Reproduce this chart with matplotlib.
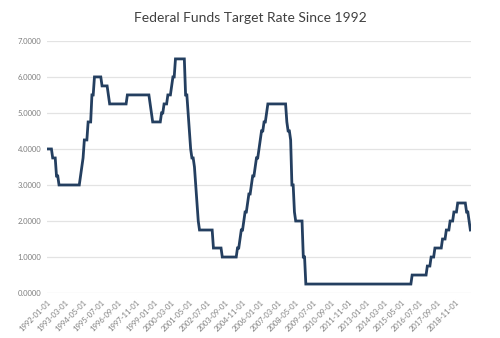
import matplotlib.pyplot as plt

# monthly target rate (value in effect on the 1st), 1992-01 .. 2019-11
rates_1992 = [4.00, 4.00, 4.00, 4.00, 3.75, 3.75, 3.75, 3.25, 3.25, 3.00, 3.00, 3.00]
rates_1993 = [3.00] * 12
rates_1994 = [3.00, 3.00, 3.25, 3.50, 3.75, 4.25, 4.25, 4.25, 4.75, 4.75, 4.75, 5.50]
rates_1995 = [5.50, 6.00, 6.00, 6.00, 6.00, 6.00, 6.00, 5.75, 5.75, 5.75, 5.75, 5.75]
rates_1996 = [5.50, 5.25, 5.25, 5.25, 5.25, 5.25, 5.25, 5.25, 5.25, 5.25, 5.25, 5.25]
rates_1997 = [5.25, 5.25, 5.25, 5.50, 5.50, 5.50, 5.50, 5.50, 5.50, 5.50, 5.50, 5.50]
rates_1998 = [5.50, 5.50, 5.50, 5.50, 5.50, 5.50, 5.50, 5.50, 5.50, 5.25, 5.00, 4.75]
rates_1999 = [4.75, 4.75, 4.75, 4.75, 4.75, 4.75, 5.00, 5.00, 5.25, 5.25, 5.25, 5.50]
rates_2000 = [5.50, 5.50, 5.75, 6.00, 6.00, 6.50, 6.50, 6.50, 6.50, 6.50, 6.50, 6.50]
rates_2001 = [6.50, 5.50, 5.50, 5.00, 4.50, 4.00, 3.75, 3.75, 3.50, 3.00, 2.50, 2.00]
rates_2002 = [1.75, 1.75, 1.75, 1.75, 1.75, 1.75, 1.75, 1.75, 1.75, 1.75, 1.75, 1.25]
rates_2003 = [1.25, 1.25, 1.25, 1.25, 1.25, 1.25, 1.00, 1.00, 1.00, 1.00, 1.00, 1.00]
rates_2004 = [1.00, 1.00, 1.00, 1.00, 1.00, 1.00, 1.25, 1.25, 1.50, 1.75, 1.75, 2.00]
rates_2005 = [2.25, 2.25, 2.50, 2.75, 2.75, 3.00, 3.25, 3.25, 3.50, 3.75, 3.75, 4.00]
rates_2006 = [4.25, 4.50, 4.50, 4.75, 4.75, 5.00, 5.25, 5.25, 5.25, 5.25, 5.25, 5.25]
rates_2007 = [5.25, 5.25, 5.25, 5.25, 5.25, 5.25, 5.25, 5.25, 5.25, 4.75, 4.50, 4.50]
rates_2008 = [4.25, 3.00, 3.00, 2.25, 2.00, 2.00, 2.00, 2.00, 2.00, 2.00, 1.00, 1.00]
rates_2009_2014 = [0.25] * 72
rates_2015 = [0.25] * 12
rates_2016 = [0.50] * 12
rates_2017 = [0.75, 0.75, 0.75, 1.00, 1.00, 1.00, 1.25, 1.25, 1.25, 1.25, 1.25, 1.25]
rates_2018 = [1.50, 1.50, 1.50, 1.75, 1.75, 1.75, 2.00, 2.00, 2.00, 2.25, 2.25, 2.25]
rates_2019 = [2.50, 2.50, 2.50, 2.50, 2.50, 2.50, 2.50, 2.25, 2.25, 2.00, 1.75]

rates = (rates_1992 + rates_1993 + rates_1994 + rates_1995 + rates_1996 + rates_1997
         + rates_1998 + rates_1999 + rates_2000 + rates_2001 + rates_2002 + rates_2003
         + rates_2004 + rates_2005 + rates_2006 + rates_2007 + rates_2008
         + rates_2009_2014 + rates_2015 + rates_2016 + rates_2017 + rates_2018 + rates_2019)

tick_labels = ["1992-01-01", "1993-03-01", "1994-05-01", "1995-07-01", "1996-09-01",
               "1997-11-01", "1999-01-01", "2000-03-01", "2001-05-01", "2002-07-01",
               "2003-09-01", "2004-11-01", "2006-01-01", "2007-03-01", "2008-05-01",
               "2009-07-01", "2010-09-01", "2011-11-01", "2013-01-01", "2014-03-01",
               "2015-05-01", "2016-07-01", "2017-09-01", "2018-11-01"]
y_ticks = [0, 1, 2, 3, 4, 5, 6, 7]

plt.rcParams['font.family'] = ['Lato', 'DejaVu Sans']

fig = plt.figure(figsize=(5, 3.38), dpi=100)
ax = fig.add_axes([0.094, 0.133, 0.848, 0.746])

x = list(range(len(rates)))
ax.plot(x, rates, color="#243f60", linewidth=2.0, solid_joinstyle="miter")

ax.set_ylim(0, 7)
ax.set_xlim(-0.5, len(rates) - 0.5)
ax.set_yticks(y_ticks)
ax.set_yticklabels(["%.4f" % v for v in y_ticks], fontsize=5.5, color="#7f7f7f")
ax.set_xticks([i * 14 for i in range(len(tick_labels))])
ax.set_xticklabels(tick_labels, fontsize=5.5, color="#7f7f7f", rotation=45,
                   ha="right", rotation_mode="anchor")
ax.tick_params(length=0, pad=4)
ax.grid(axis="y", color="#e3e3e3", linewidth=0.9)
ax.set_axisbelow(True)
for s in ax.spines.values():
    s.set_visible(False)

fig.suptitle("Federal Funds Target Rate Since 1992", x=0.5, y=0.965,
             fontsize=10, color="#404040")

fig.savefig("out.png", dpi=100)
